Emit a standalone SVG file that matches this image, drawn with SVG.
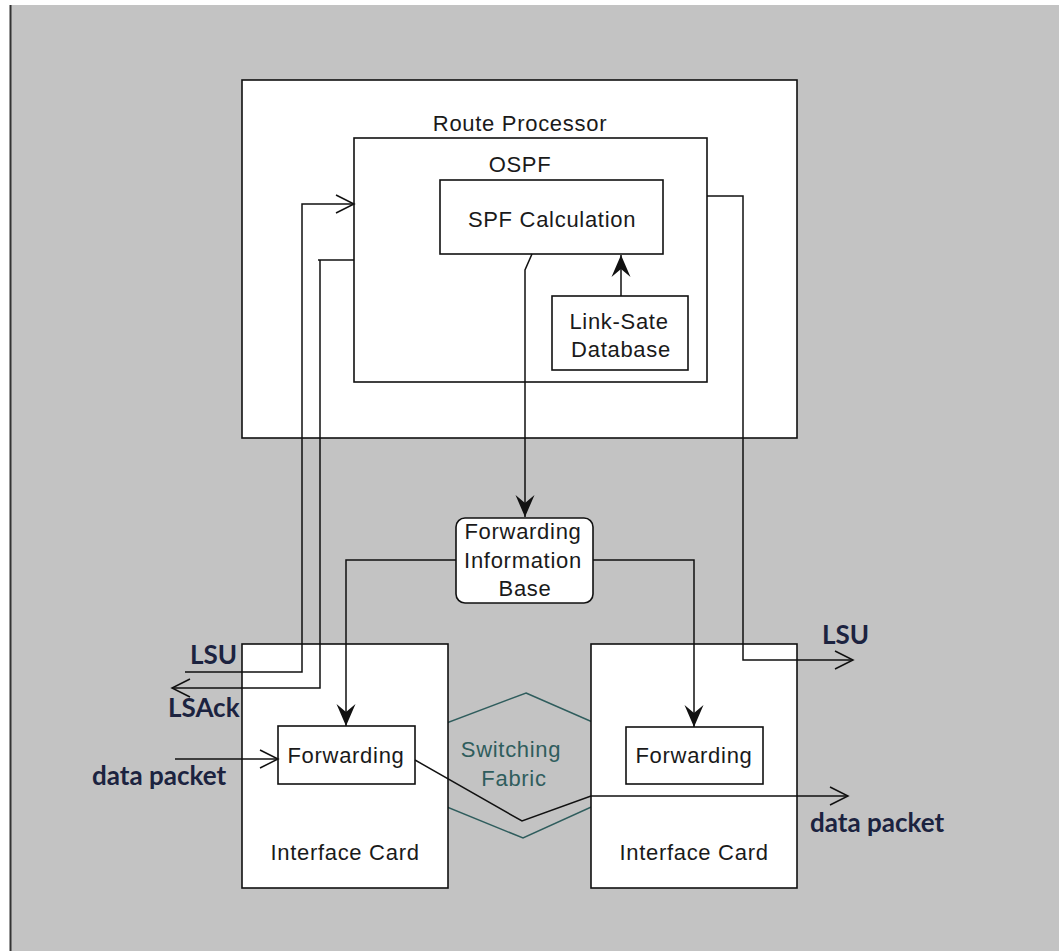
<svg xmlns="http://www.w3.org/2000/svg" width="1059" height="951" viewBox="0 0 1059 951">
  <style>
    .box { fill: #ffffff; stroke: #111111; stroke-width: 1.6; }
    .lbl { font-family: "Liberation Sans", Arial, sans-serif; font-size: 22px; letter-spacing: 0.7px; fill: #1a1a1a; text-anchor: middle; }
    .ext { font-family: Lato, "Liberation Sans", sans-serif; font-weight: bold; font-size: 26px; fill: #1c2340; }
    .fab { font-family: "Liberation Sans", Arial, sans-serif; font-size: 22px; letter-spacing: 0.7px; fill: #2f5d5d; text-anchor: middle; }
    .wire { fill: none; stroke: #111111; stroke-width: 1.5; }
    .open { fill: none; stroke: #111111; stroke-width: 1.5; }
  </style>
  <defs>
    <marker id="solid" viewBox="-23 -11 25 22" refX="0" refY="0" markerWidth="25" markerHeight="22" markerUnits="userSpaceOnUse" orient="auto">
      <path d="M0,0 L-22,-9.5 L-14,0 L-22,9.5 Z" fill="#111111"/>
    </marker>
    <marker id="vee" viewBox="-20 -11 22 22" refX="0" refY="0" markerWidth="22" markerHeight="22" markerUnits="userSpaceOnUse" orient="auto">
      <path d="M-18,-9 L0,0 L-18,9" fill="none" stroke="#111111" stroke-width="1.5"/>
    </marker>
  </defs>

  <!-- page background -->
  <rect x="0" y="0" width="1059" height="951" fill="#ffffff"/>
  <rect x="10" y="5" width="1049" height="946" fill="#c3c3c3"/>
  <line x1="10.5" y1="5" x2="10.5" y2="951" stroke="#333333" stroke-width="2"/>

  <!-- switching fabric (behind the interface cards) -->
  <g id="switching-fabric">
    <polygon points="526,693 620,734 620,794 523,838 420,796 420,733" fill="none" stroke="#2f5d5d" stroke-width="1.5"/>
    <text class="fab" x="511" y="757">Switching</text>
    <text class="fab" x="514" y="786">Fabric</text>
  </g>

  <g id="route-processor">
    <rect class="box" x="242" y="80" width="555" height="358"/>
    <text class="lbl" x="520" y="131">Route Processor</text>
  </g>

  <g id="ospf">
    <rect class="box" x="354" y="138" width="353" height="244"/>
    <text class="lbl" x="520" y="172">OSPF</text>
  </g>

  <g id="spf-calculation">
    <rect class="box" x="440" y="180" width="223" height="74"/>
    <text class="lbl" x="552" y="227">SPF Calculation</text>
  </g>

  <g id="link-state-db">
    <rect class="box" x="552" y="296" width="136" height="74"/>
    <text class="lbl" x="619" y="329">Link-Sate</text>
    <text class="lbl" x="621" y="357">Database</text>
  </g>

  <g id="fib">
    <rect class="box" x="456" y="518" width="137" height="85" rx="9" ry="9"/>
    <text class="lbl" x="523" y="539">Forwarding</text>
    <text class="lbl" x="523" y="568">Information</text>
    <text class="lbl" x="525" y="596">Base</text>
  </g>

  <g id="interface-card-left">
    <rect class="box" x="242" y="644" width="206" height="244"/>
    <text class="lbl" x="345" y="860">Interface Card</text>
  </g>

  <g id="forwarding-left">
    <rect class="box" x="278" y="726" width="137" height="58"/>
    <text class="lbl" x="346" y="763">Forwarding</text>
  </g>

  <g id="interface-card-right">
    <rect class="box" x="591" y="644" width="206" height="244"/>
    <text class="lbl" x="694" y="860">Interface Card</text>
  </g>

  <g id="forwarding-right">
    <rect class="box" x="626" y="727" width="137" height="57"/>
    <text class="lbl" x="694" y="763">Forwarding</text>
  </g>

  <g id="connectors">
    <!-- LSDB to SPF -->
    <line class="wire" x1="621" y1="296" x2="621" y2="255" marker-end="url(#solid)"/>
    <!-- SPF to FIB -->
    <polyline class="wire" points="532,254 525,270 525,517" marker-end="url(#solid)"/>
    <!-- FIB to line-card forwarding tables -->
    <polyline class="wire" points="456,560 346,560 346,726" marker-end="url(#solid)"/>
    <polyline class="wire" points="593,560 694,560 694,727" marker-end="url(#solid)"/>
    <!-- incoming LSU to OSPF -->
    <polyline class="open" points="185,672 302,672 302,204 354,204" marker-end="url(#vee)"/>
    <!-- LSAck out -->
    <polyline class="open" points="354,260 318,260"/>
    <polyline class="open" points="320,260 320,688 172,688" marker-end="url(#vee)"/>
    <!-- LSU flooded out -->
    <polyline class="open" points="707,196 743,196 743,660 853,660" marker-end="url(#vee)"/>
    <!-- data packet path -->
    <line class="open" x1="175" y1="759" x2="278" y2="759" marker-end="url(#vee)"/>
    <polyline class="open" points="415,760 522,821 591,796 848,796" marker-end="url(#vee)"/>
  </g>

  <g id="external-labels">
    <text class="ext" x="190" y="664">LSU</text>
    <text class="ext" x="168" y="717">LSAck</text>
    <text class="ext" x="92" y="785">data packet</text>
    <text class="ext" x="822" y="644">LSU</text>
    <text class="ext" x="810" y="832">data packet</text>
  </g>
</svg>
